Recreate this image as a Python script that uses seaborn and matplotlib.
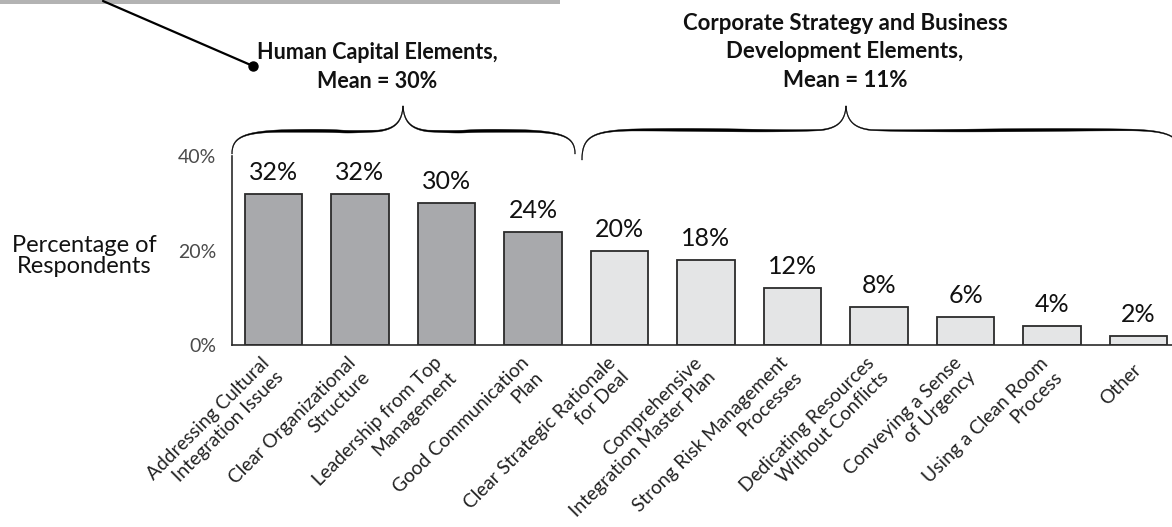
import numpy as np
import pandas as pd
import matplotlib
matplotlib.use("Agg")
import matplotlib.pyplot as plt
import seaborn as sns

# Survey items, grouped by element type
items = [
    "Addressing Cultural\nIntegration Issues",
    "Clear Organizational\nStructure",
    "Leadership from Top\nManagement",
    "Good Communication\nPlan",
    "Clear Strategic Rationale\nfor Deal",
    "Comprehensive\nIntegration Master Plan",
    "Strong Risk Management\nProcesses",
    "Dedicating Resources\nWithout Conflicts",
    "Conveying a Sense\nof Urgency",
    "Using a Clean Room\nProcess",
    "Other",
]
percent = [32, 32, 30, 24, 20, 18, 12, 8, 6, 4, 2]
groups = ["Human Capital"] * 4 + ["Corporate Strategy"] * 7
y_ticks = [0, 20, 40]
y_tick_labels = ["0%", "20%", "40%"]

human_title = "Human Capital Elements,\nMean = 30%"
corp_title = "Corporate Strategy and Business\nDevelopment Elements,\nMean = 11%"

df = pd.DataFrame({"item": items, "pct": percent, "group": groups})

sns.set_theme(style="white")
plt.rcParams["font.family"] = ["Lato", "DejaVu Sans"]

W, H = 1172, 527
fig = plt.figure(figsize=(W / 100, H / 100), dpi=100)
ax = fig.add_axes([231.7 / W, 1 - 345 / H, (W - 231.7) / W, (345 - 156) / H])

palette = {"Human Capital": "#a8a9ac", "Corporate Strategy": "#e4e5e6"}
sns.barplot(data=df, x="item", y="pct", hue="group", palette=palette,
            dodge=False, width=0.66, edgecolor="#2b2b2b", linewidth=1.3,
            saturation=1, legend=False, ax=ax)

ax.set_xlim(-0.483, 10.387)
ax.set_ylim(0, 40)
ax.set_yticks(y_ticks)
ax.set_yticklabels(y_tick_labels, fontsize=14, color="#4a4a4a")
ax.tick_params(axis="y", direction="in", length=5, width=1, color="#2b2b2b", pad=11)
ax.tick_params(axis="x", length=0, pad=16)
ax.set_xticks(range(len(items)))
ax.set_xticklabels(items, rotation=45, ha="right", va="center", rotation_mode="anchor",
                   fontsize=13.8, color="#222222", multialignment="right",
                   linespacing=1.2)
ax.set_xlabel("")
ax.set_ylabel("")
for s in ["top", "right"]:
    ax.spines[s].set_visible(False)
for s in ["left", "bottom"]:
    ax.spines[s].set_color("#2b2b2b")
    ax.spines[s].set_linewidth(1.2)

# value labels above each bar
for i, v in enumerate(percent):
    ax.annotate(f"{v}%", xy=(i, v), xytext=(0, 10), textcoords="offset points",
                ha="center", va="baseline", fontsize=18, color="#111111")

# y-axis title
fig.text(84 / W, 1 - 256 / H, "Percentage of\nRespondents", ha="center", va="center",
         fontsize=17, color="#111111", linespacing=1.05)

# overlay in pixel coordinates for braces, headings and callout
ov = fig.add_axes([0, 0, 1, 1], facecolor="none")
ov.set_xlim(0, W)
ov.set_ylim(H, 0)
ov.axis("off")


def bezier(p0, p1, p2, p3, n=40):
    t = np.linspace(0, 1, n)[:, None]
    p0, p1, p2, p3 = map(np.array, (p0, p1, p2, p3))
    return ((1 - t) ** 3) * p0 + 3 * ((1 - t) ** 2) * t * p1 + 3 * (1 - t) * t ** 2 * p2 + t ** 3 * p3


def half_brace(xe, xt, y_end, y_arm, y_tip, direction):
    d = direction
    a = bezier((xe, y_end), (xe, y_arm + 6), (xe + d * 10, y_arm), (xe + d * 50, y_arm - 1))
    b = bezier((xe + d * 50, y_arm - 1), (xe + d * 130, y_arm - 2),
               (xt - d * 80, y_arm + 1), (xt - d * 25, y_arm - 1))
    c = bezier((xt - d * 25, y_arm - 1), (xt - d * 8, y_arm - 3),
               (xt - d * 1, y_arm - 10), (xt, y_tip))
    pts = np.vstack([a, b[1:], c[1:]])
    seg = np.diff(pts, axis=0)
    L = np.concatenate([[0], np.cumsum(np.hypot(seg[:, 0], seg[:, 1]))])
    s = L / L[-1]
    w = 0.35 + 1.15 * np.sin(np.pi * np.clip(s, 0, 1)) ** 1.5
    tang = np.gradient(pts, axis=0)
    tang /= np.hypot(tang[:, 0], tang[:, 1])[:, None]
    nrm = np.column_stack([-tang[:, 1], tang[:, 0]])
    up = pts + nrm * w[:, None]
    dn = pts - nrm * w[:, None]
    poly = np.vstack([up, dn[::-1]])
    ov.fill(poly[:, 0], poly[:, 1], color="black", lw=0.3, ec="black")


def brace(xl, xr, xt, y_end, y_arm, y_tip):
    half_brace(xl, xt, y_end, y_arm, y_tip, 1)
    half_brace(xr, xt, y_end, y_arm, y_tip, -1)


brace(232, 575, 403, 154, 132, 106)
brace(582, 1182, 846, 160, 131, 106)

ov.text(377, 67, human_title, ha="center", va="center", fontsize=15.5,
        fontweight="bold", color="#111111", linespacing=1.45)
ov.text(845, 52, corp_title, ha="center", va="center", fontsize=16,
        fontweight="bold", color="#111111", linespacing=1.42)

# callout line from the top band
ov.add_patch(plt.Rectangle((0, 0), 560, 3.5, color="#b3b3b3", lw=0))
ov.plot([103, 253], [1, 66], color="black", lw=1.6, solid_capstyle="round")
ov.plot([253], [66], "o", color="black", ms=6.5)

fig.savefig("out.png", dpi=100)
